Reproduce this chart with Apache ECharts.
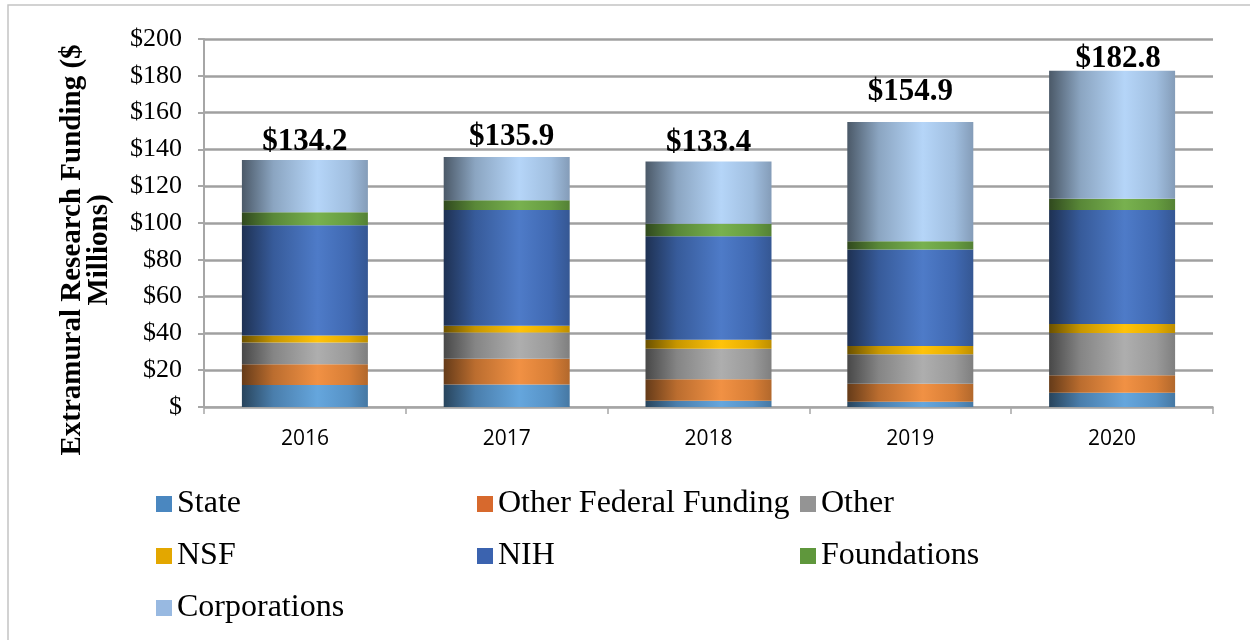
<!DOCTYPE html>
<html>
<head>
<meta charset="utf-8">
<title>Extramural Research Funding</title>
<script src="https://cdn.jsdelivr.net/npm/echarts@6/dist/echarts.min.js"></script>
<style>
  html, body { margin: 0; padding: 0; background: #fff; }
  #main { width: 1250px; height: 640px; }
</style>
</head>
<body>
<div id="main"></div>
<script>
// 数据 ($ millions)
const years = ['2016', '2017', '2018', '2019', '2020'];
const state = [12.0, 12.2, 3.4, 2.8, 7.8];
const otherFederal = [11.3, 14.0, 11.7, 9.9, 9.5];
const other = [11.7, 14.3, 16.5, 16.0, 22.9];
const nsf = [3.9, 3.6, 4.9, 4.5, 4.9];
const nih = [59.9, 62.9, 56.3, 52.4, 61.9];
const foundations = [7.1, 5.3, 6.8, 4.5, 6.2];
const corporations = [28.3, 23.6, 33.8, 64.8, 69.6];
const totals = [134.2, 135.9, 133.4, 154.9, 182.8];
const yMin = 0;
const yMax = 200;
const yStep = 20;

const serif = '"Liberation Serif", "Times New Roman", serif';

// bar colour (middle of cylinder) + legend swatch colour
const seriesDefs = [
  { name: 'State', data: state, color: '#5fa2dc', swatch: '#4a87c0' },
  { name: 'Other Federal Funding', data: otherFederal, color: '#f08c3c', swatch: '#d7692d' },
  { name: 'Other', data: other, color: '#ababab', swatch: '#949494' },
  { name: 'NSF', data: nsf, color: '#ffc000', swatch: '#e3a700' },
  { name: 'NIH', data: nih, color: '#4775c6', swatch: '#3b63af' },
  { name: 'Foundations', data: foundations, color: '#72ae48', swatch: '#5f973c' },
  { name: 'Corporations', data: corporations, color: '#b2d3f8', swatch: '#98b9e1' },
];

function shade(hex, f) {
  const n = parseInt(hex.slice(1), 16);
  const ch = [(n >> 16) & 255, (n >> 8) & 255, n & 255].map((c) => {
    const v = f <= 1 ? c * f : c + (255 - c) * (f - 1);
    return Math.max(0, Math.min(255, Math.round(v)));
  });
  return `rgb(${ch.join(',')})`;
}

// cylinder-ish horizontal gradient like the Excel chart
function cylinder(hex) {
  return new echarts.graphic.LinearGradient(0, 0, 1, 0, [
    { offset: 0, color: shade(hex, 0.42) },
    { offset: 0.25, color: shade(hex, 0.78) },
    { offset: 0.6, color: shade(hex, 1.04) },
    { offset: 0.85, color: shade(hex, 0.9) },
    { offset: 1, color: shade(hex, 0.74) },
  ]);
}

// total labels are placed by hand in the original, nudge them a bit
const labelShift = [[0, 1], [5, 0], [0, 1], [0, -10], [6, 8]];

const series = seriesDefs.map((d, si) => {
  const isTop = si === seriesDefs.length - 1;
  return {
    name: d.name,
    type: 'bar',
    stack: 'total',
    barWidth: 126,
    itemStyle: { color: cylinder(d.color) },
    emphasis: { disabled: true },
    data: isTop
      ? d.data.map((v, i) => ({ value: v, label: { offset: labelShift[i] } }))
      : d.data,
    label: isTop ? {
      show: true,
      position: 'top',
      distance: 4,
      formatter: (p) => `$${totals[p.dataIndex].toFixed(1)}`,
      fontFamily: serif,
      fontWeight: 'bold',
      fontSize: 31,
      color: '#000',
    } : { show: false },
  };
});

function legendData(names) {
  return names.map((n) => {
    const d = seriesDefs.find((s) => s.name === n);
    return { name: n, itemStyle: { color: d.swatch } };
  });
}

const legendBase = {
  orient: 'vertical',
  icon: 'rect',
  itemWidth: 16,
  itemHeight: 16,
  itemGap: 20,
  top: 488,
  padding: 0,
  selectedMode: true,
  textStyle: { fontFamily: serif, fontSize: 32, color: '#000', lineHeight: 32 },
};

const option = {
  backgroundColor: '#fff',
  animation: false,
  grid: {
    left: 204,
    right: 37,
    top: 39,
    bottom: 233,
    containLabel: false,
  },
  legend: [
    Object.assign({}, legendBase, { left: 156, data: legendData(['State', 'NSF', 'Corporations']) }),
    Object.assign({}, legendBase, { left: 477, data: legendData(['Other Federal Funding', 'NIH']) }),
    Object.assign({}, legendBase, { left: 800, data: legendData(['Other', 'Foundations']) }),
  ],
  xAxis: {
    type: 'category',
    data: years,
    axisLine: { show: true, lineStyle: { color: '#a6a6a6', width: 1.5 } },
    axisTick: { show: true, length: 7, lineStyle: { color: '#a6a6a6', width: 1.5 } },
    axisLabel: {
      margin: 22,
      fontFamily: '"Open Sans", "Noto Sans", sans-serif',
      fontSize: 21,
      color: '#000',
    },
    splitLine: { show: false },
  },
  yAxis: {
    type: 'value',
    min: yMin,
    max: yMax,
    interval: yStep,
    axisLine: { show: true, lineStyle: { color: '#a6a6a6', width: 2 } },
    axisTick: { show: true, length: 6, lineStyle: { color: '#a6a6a6', width: 2 } },
    axisLabel: {
      margin: 22,
      fontFamily: serif,
      fontSize: 26,
      color: '#000',
      formatter: (v) => (v === 0 ? '$' : `$${v}`),
    },
    splitLine: { show: true, lineStyle: { color: '#a0a0a0', width: 2.5 } },
  },
  graphic: [
    {
      type: 'rect',
      silent: true,
      shape: { x: 8, y: 5, width: 1300, height: 700 },
      style: { fill: 'none', stroke: '#c4c4c4', lineWidth: 1.5 },
    },
    {
      type: 'text',
      x: 86,
      y: 250,
      rotation: Math.PI / 2,
      silent: true,
      style: {
        text: 'Extramural Research Funding ($\nMillions)',
        textAlign: 'center',
        textVerticalAlign: 'middle',
        font: `bold 29px ${serif}`,
        lineHeight: 27,
        fill: '#000',
      },
    },
  ],
  series,
};

const chart = echarts.init(document.getElementById('main'));
chart.setOption(option);
</script>
</body>
</html>
